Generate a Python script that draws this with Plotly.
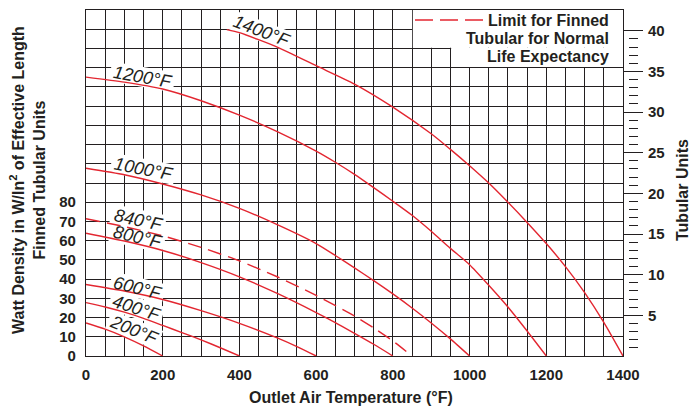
import math
import plotly.graph_objects as go

# ---------------- data ----------------
t_200 = [0, 50, 100, 150, 200]
w_200 = [17.2, 14.0, 10.0, 5.3, 0]

t_400 = [0, 50, 100, 150, 200, 250, 300, 350, 400]
w_400 = [27.8, 25.5, 22.8, 19.6, 15.9, 12.2, 8.4, 4.3, 0]

t_600 = [0, 100, 200, 300, 400, 500, 550, 600]
w_600 = [37.2, 33.8, 29.4, 23.6, 17.0, 9.3, 4.9, 0]

t_800 = [0, 100, 200, 300, 400, 500, 600, 650, 700, 750, 800]
w_800 = [63.9, 59.8, 54.9, 48.6, 41.2, 32.4, 22.6, 17.4, 11.8, 6.1, 0]

t_840 = [0, 100, 200, 300, 400, 500, 600, 700, 750, 800, 850]
w_840 = [71.4, 67.3, 62.5, 56.5, 49.5, 41.1, 31.5, 20.8, 14.6, 7.8, 0]

t_1000 = [0, 100, 200, 300, 400, 500, 600, 650, 700, 750, 800, 850, 900, 950, 1000]
w_1000 = [97.7, 94.3, 89.5, 83.8, 76.8, 68.2, 58.5, 52.3, 45.8, 39.2, 32.3, 25.0, 17.2, 8.9, 0]

t_1200 = [0, 100, 200, 300, 400, 500, 600, 650, 700, 750, 800, 850, 900, 950,
          1000, 1050, 1100, 1150, 1200]
w_1200 = [145.1, 142.5, 138.9, 132.8, 125.3, 116.6, 106.6, 100.8, 94.5, 87.6, 80.5,
          73.2, 64.9, 56.0, 47.5, 36.8, 25.5, 13.0, 0]

t_1400 = [367, 400, 500, 600, 700, 800, 900, 950, 1000, 1050, 1100, 1150, 1200,
          1250, 1300, 1350, 1400]
w_1400 = [169.8, 168.2, 160.6, 151.0, 141.5, 129.5, 115.6, 107.5, 99.0, 90.0, 80.0,
          69.5, 58.5, 46.5, 33.0, 17.5, 0]

curve_labels = ["200°F", "400°F", "600°F", "800°F", "840°F", "1000°F", "1200°F", "1400°F"]
label_t = [125, 131, 134, 134, 136, 149, 147, 458]
label_w = [13.5, 25.0, 35.6, 61.7, 71.0, 97.4, 145.2, 168.9]
label_angle = [22, 18, 14, 13, 12, 11, 10, 21]

x_tick_values = [0, 200, 400, 600, 800, 1000, 1200, 1400]
x_tick_labels = ["0", "200", "400", "600", "800", "1000", "1200", "1400"]
y_tick_values = [0, 10, 20, 30, 40, 50, 60, 70, 80]
y_tick_labels = ["0", "10", "20", "30", "40", "50", "60", "70", "80"]
tub_tick_values = [5, 10, 15, 20, 25, 30, 35, 40]
tub_tick_labels = ["5", "10", "15", "20", "25", "30", "35", "40"]

legend_lines = ["Limit for Finned", "Tubular for Normal", "Life Expectancy"]
x_title = "Outlet Air Temperature (°F)"
y_title = "Watt Density in W/In<sup>2</sup> of Effective Length<br>Finned Tubular Units"
y2_title = "Tubular Units"

# ---------------- styling / geometry ----------------
RED = "#e32630"
INK = "#231f20"
FONT = "Liberation Sans, Arial, Helvetica, sans-serif"

W, H = 692, 406
ML, MR, MT, MB = 86, 40, 10, 50
PW = W - ML - MR                  # paper width in px
PH = H - MT - MB                  # plot height in px
PLOT_W = 537                      # plot area width in px
XDOM = PLOT_W / PW
X_MAX, Y_MAX = 1400, 180
K_TUB = 4.23                      # finned W/in2 per tubular unit
SX = PLOT_W / X_MAX
SY = PH / Y_MAX


def px_x(px):
    return (px - ML) / PW


def px_y(py):
    return (H - MB - py) / PH


fig = go.Figure()

curves = [(t_200, w_200, "solid"), (t_400, w_400, "solid"), (t_600, w_600, "solid"),
          (t_800, w_800, "solid"), (t_840, w_840, "14px,7px"), (t_1000, w_1000, "solid"),
          (t_1200, w_1200, "solid"), (t_1400, w_1400, "solid")]
for t, w, dash in curves:
    fig.add_trace(go.Scatter(x=t, y=w, mode="lines", hoverinfo="skip",
                             line=dict(color=RED, width=1.4, dash=dash,
                                       shape="spline", smoothing=0.6)))

# invisible traces to bind the right-hand axes
fig.add_trace(go.Scatter(x=[None], y=[None], yaxis="y2", showlegend=False, hoverinfo="skip"))
fig.add_trace(go.Scatter(x=[None], y=[None], yaxis="y3", showlegend=False, hoverinfo="skip"))

shapes = []
# white background of the legend (covers the grid, under the traces)
shapes.append(dict(type="rect", xref="x", yref="y", layer="between",
                   x0=852, x1=X_MAX, y0=160.3, y1=Y_MAX,
                   fillcolor="white", line=dict(width=0)))
shapes.append(dict(type="rect", xref="x", yref="y", layer="between",
                   x0=952, x1=X_MAX, y0=150.3, y1=160.4,
                   fillcolor="white", line=dict(width=0)))
# legend swatch
shapes.append(dict(type="line", xref="paper", yref="paper",
                   x0=px_x(415), x1=px_x(483), y0=px_y(20), y1=px_y(20),
                   line=dict(color=RED, width=1.4, dash="18px,7px")))

# white rotated boxes behind curve labels (hide the grid, keep the curves)
for txt, t, w, ang in zip(curve_labels, label_t, label_w, label_angle):
    bw = len(txt) * 9.8 + 6
    bh = 20
    a = math.radians(ang)
    pts = []
    for dx, dy in [(-bw / 2, -bh / 2), (bw / 2, -bh / 2), (bw / 2, bh / 2), (-bw / 2, bh / 2)]:
        rx = dx * math.cos(a) - dy * math.sin(a)
        ry = dx * math.sin(a) + dy * math.cos(a)
        pts.append((t + rx / SX, w - ry / SY))
    path = "M " + " L ".join(f"{px:.2f},{py:.2f}" for px, py in pts) + " Z"
    shapes.append(dict(type="path", xref="x", yref="y", layer="between", path=path,
                       fillcolor="white", line=dict(width=0)))

annotations = []
for txt, t, w, ang in zip(curve_labels, label_t, label_w, label_angle):
    annotations.append(dict(x=t, y=w, xref="x", yref="y", text=f"<i>{txt}</i>",
                            showarrow=False, textangle=ang, xanchor="center", yanchor="middle",
                            font=dict(family=FONT, size=18, color=INK)))

for i, line in enumerate(legend_lines):
    annotations.append(dict(x=px_x(611), y=px_y(20 + 18.4 * i), xref="paper", yref="paper",
                            text=line, showarrow=False, xanchor="right", yanchor="middle",
                            font=dict(family=FONT, size=16, color=INK, weight="bold")))

annotations.append(dict(x=px_x(351), y=px_y(397), xref="paper", yref="paper", text=x_title,
                        showarrow=False, xanchor="center", yanchor="middle",
                        font=dict(family=FONT, size=16, color=INK, weight="bold")))
annotations.append(dict(x=px_x(27), y=px_y(180), xref="paper", yref="paper", text=y_title,
                        showarrow=False, textangle=-90, xanchor="center", yanchor="middle",
                        font=dict(family=FONT, size=16, color=INK, weight="bold")))
annotations.append(dict(x=px_x(682), y=px_y(190), xref="paper", yref="paper", text=y2_title,
                        showarrow=False, textangle=-90, xanchor="center", yanchor="middle",
                        font=dict(family=FONT, size=16, color=INK, weight="bold")))

tub_minor = [v for v in range(1, 41) if v not in tub_tick_values]

tickfont = dict(family=FONT, size=15, color=INK, weight="bold")
grid_minor_x = dict(tick0=0, dtick=50, showgrid=True, gridcolor=INK, gridwidth=1, ticks="")
grid_minor_y = dict(tick0=0, dtick=10, showgrid=True, gridcolor=INK, gridwidth=1, ticks="")

fig.update_layout(
    width=W, height=H,
    margin=dict(l=ML, r=MR, t=MT, b=MB, autoexpand=False),
    paper_bgcolor="white", plot_bgcolor="white",
    showlegend=False,
    font=dict(family=FONT, color=INK, size=15),
    shapes=shapes, annotations=annotations,
    xaxis=dict(domain=[0, XDOM], range=[0, X_MAX], tickmode="array",
               tickvals=x_tick_values, ticktext=x_tick_labels, ticks="", tickangle=0,
               showgrid=True, gridcolor=INK, gridwidth=1, zeroline=False,
               minor=grid_minor_x,
               showline=True, linecolor=INK, linewidth=1.3, mirror=True,
               tickfont=tickfont, ticklabelstandoff=5, fixedrange=True),
    yaxis=dict(range=[0, Y_MAX], tickmode="array", tickvals=y_tick_values,
               ticktext=y_tick_labels, ticks="",
               showgrid=True, gridcolor=INK, gridwidth=1, zeroline=False,
               minor=grid_minor_y,
               showline=True, linecolor=INK, linewidth=1.3, mirror=True,
               tickfont=tickfont, ticklabelstandoff=6, fixedrange=True),
    yaxis2=dict(overlaying="y", anchor="x", side="right", range=[0, Y_MAX / K_TUB],
                tickmode="array", tickvals=tub_tick_values, ticktext=tub_tick_labels,
                ticks="outside", ticklen=19, tickwidth=1.2, tickcolor=INK,
                showgrid=False, zeroline=False, showline=False,
                tickfont=tickfont, ticklabelstandoff=2, fixedrange=True),
    yaxis3=dict(overlaying="y", anchor="free", position=px_x(628), side="right",
                range=[0, Y_MAX / K_TUB], tickmode="array", tickvals=tub_minor,
                ticks="outside", ticklen=9, tickwidth=1.2, tickcolor=INK,
                showticklabels=False, showgrid=False, zeroline=False, showline=False,
                fixedrange=True),
)

fig.write_html("out.html", config={"displayModeBar": False},
               post_script="document.body.style.margin='0px';document.body.style.overflow='hidden';")
